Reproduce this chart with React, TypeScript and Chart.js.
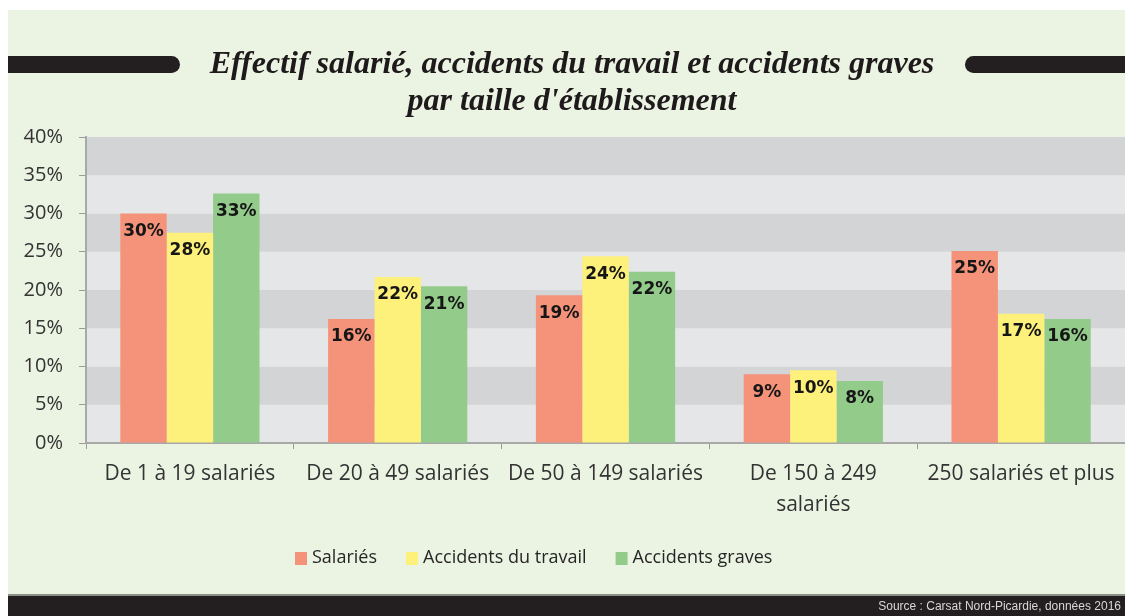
import React, { useEffect, useRef } from "react";
import { Chart, registerables } from "chart.js";

Chart.register(...registerables);

const categories: (string | string[])[] = [
  "De 1 à 19 salariés",
  "De 20 à 49 salariés",
  "De 50 à 149 salariés",
  ["De 150 à 249", "salariés"],
  "250 salariés et plus",
];
const seriesNames = ["Salariés", "Accidents du travail", "Accidents graves"];
const salaries = [30.0, 16.2, 19.3, 9.0, 25.1];
const accidentsTravail = [27.5, 21.7, 24.4, 9.5, 16.9];
const accidentsGraves = [32.6, 20.5, 22.4, 8.1, 16.2];
const yTicks = [0, 5, 10, 15, 20, 25, 30, 35, 40];
const titleLines = ["Effectif salarié, accidents du travail et accidents graves", "par taille d'établissement"];
const sourceText = "Source : Carsat Nord-Picardie, données 2016";

const COLORS = ["#f5937a", "#fdf07b", "#93cb8b"];
const BG = "#ebf3e2";
const FONT = "'Open Sans', Lato, sans-serif";

const decorPlugin = {
  id: "decor",
  beforeDraw(chart: any) {
    const { ctx, width, height, chartArea, scales } = chart;
    ctx.save();
    ctx.fillStyle = BG;
    ctx.fillRect(0, 0, width, height);
    // bands
    const y = scales.y;
    for (let i = 0; i < yTicks.length - 1; i++) {
      const top = y.getPixelForValue(yTicks[i + 1]);
      const bot = y.getPixelForValue(yTicks[i]);
      ctx.fillStyle = i % 2 === 0 ? "#e5e6e8" : "#d3d4d6";
      ctx.fillRect(chartArea.left, top, chartArea.right - chartArea.left, bot - top);
    }
    // title bars
    ctx.fillStyle = "#231f20";
    const barTop = 46, barH = 17, r = barH / 2;
    ctx.beginPath();
    ctx.moveTo(-10, barTop);
    ctx.lineTo(172 - r, barTop);
    ctx.arc(172 - r, barTop + r, r, -Math.PI / 2, Math.PI / 2);
    ctx.lineTo(-10, barTop + barH);
    ctx.closePath();
    ctx.fill();
    ctx.beginPath();
    ctx.moveTo(width + 10, barTop);
    ctx.lineTo(957 + r, barTop);
    ctx.arc(957 + r, barTop + r, r, -Math.PI / 2, Math.PI / 2, true);
    ctx.lineTo(width + 10, barTop + barH);
    ctx.closePath();
    ctx.fill();
    // title text
    ctx.fillStyle = "#1e1a1b";
    ctx.font = "italic bold 32px 'Liberation Serif', 'DejaVu Serif', serif";
    ctx.textAlign = "center";
    ctx.textBaseline = "middle";
    ctx.fillText(titleLines[0], 564, 55);
    ctx.fillText(titleLines[1], 564, 92);
    // bottom bar
    ctx.fillStyle = "#8a8f86";
    ctx.fillRect(0, 584, width, 2);
    ctx.fillStyle = "#231f20";
    ctx.fillRect(0, 586, width, height - 586);
    ctx.fillStyle = "#d8d8d8";
    ctx.font = "12px 'Liberation Sans Narrow', 'Liberation Sans', sans-serif";
    ctx.textAlign = "right";
    ctx.fillText(sourceText, width - 4, 597);
    ctx.restore();
  },
  afterDatasetsDraw(chart: any) {
    const { ctx } = chart;
    ctx.save();
    ctx.font = "bold 17px 'DejaVu Sans', sans-serif";
    ctx.fillStyle = "#161616";
    ctx.textAlign = "center";
    ctx.textBaseline = "middle";
    chart.data.datasets.forEach((ds: any, di: number) => {
      const meta = chart.getDatasetMeta(di);
      meta.data.forEach((bar: any, i: number) => {
        ctx.fillText(Math.round(ds.data[i]) + "%", bar.x, bar.y + 18);
      });
    });
    ctx.restore();
  },
  afterDraw(chart: any) {
    const { ctx } = chart;
    ctx.save();
    ctx.font = "18px " + FONT;
    ctx.textBaseline = "middle";
    ctx.textAlign = "left";
    let x = 287;
    const cy = 548;
    chart.data.datasets.forEach((ds: any) => {
      ctx.fillStyle = ds.backgroundColor;
      ctx.fillRect(x, cy - 6, 12, 13);
      x += 17;
      ctx.fillStyle = "#262626";
      ctx.fillText(ds.label, x, cy);
      x += ctx.measureText(ds.label).width + 29;
    });
    ctx.restore();
  },
};

export default function App() {
  const ref = useRef<HTMLCanvasElement>(null);
  useEffect(() => {
    if (!ref.current) return;
    const chart = new Chart(ref.current, {
      type: "bar",
      data: {
        labels: categories,
        datasets: [
          { label: seriesNames[0], data: salaries, backgroundColor: COLORS[0] },
          { label: seriesNames[1], data: accidentsTravail, backgroundColor: COLORS[1] },
          { label: seriesNames[2], data: accidentsGraves, backgroundColor: COLORS[2] },
        ],
      },
      options: {
        responsive: false,
        animation: false,
        devicePixelRatio: 1,
        datasets: { bar: { categoryPercentage: 0.67, barPercentage: 1 } },
        layout: { padding: { top: 127, left: 0, right: 0, bottom: 0 } },
        plugins: { legend: { display: false }, tooltip: { enabled: false }, title: { display: false } },
        scales: {
          x: {
            grid: { offset: true, drawOnChartArea: false, drawTicks: true, tickLength: 6, color: "#9a9a9a" },
            border: { color: "#a8a8a8", width: 2 },
            ticks: {
              color: "#333333",
              font: { family: FONT, size: 21, lineHeight: 1.45 },
              maxRotation: 0,
              minRotation: 0,
              autoSkip: false,
              padding: 10,
            },
            afterFit(scale: any) {
              scale.height = 173;
            },
          },
          y: {
            min: 0,
            max: 40,
            afterBuildTicks(scale: any) {
              scale.ticks = yTicks.map((v) => ({ value: v }));
            },
            grid: { drawOnChartArea: false, drawTicks: true, tickLength: 7, color: "#9a9a9a" },
            border: { color: "#a8a8a8", width: 2 },
            ticks: {
              color: "#333333",
              font: { family: FONT, size: 20 },
              padding: 16,
              callback: (v: any) => v + "%",
            },
            afterFit(scale: any) {
              scale.width = 78;
            },
          },
        },
      },
      plugins: [decorPlugin],
    });
    return () => chart.destroy();
  }, []);
  return (
    <div style={{ position: "absolute", left: 8, top: 10, width: 1117, height: 606 }}>
      <canvas ref={ref} width={1117} height={606} style={{ width: 1117, height: 606, display: "block" }} />
    </div>
  );
}
